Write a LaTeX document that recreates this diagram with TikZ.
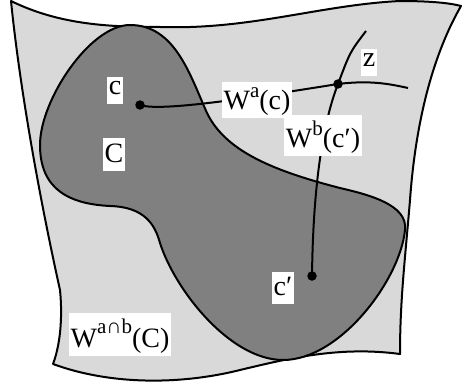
\documentclass[tikz,border=0pt]{standalone}
\usepackage{fontspec}
\setmainfont{Liberation Serif}
\newfontfamily\figfont{Liberation Serif}
\definecolor{sheetgray}{HTML}{D9D9D9}
\definecolor{blobgray}{HTML}{808080}
\newcommand{\SupT}[2][12pt]{\raisebox{#1}{\fontsize{21}{23}\selectfont #2}}
\begin{document}
\begin{tikzpicture}[x=1pt,y=-1pt,line width=2pt,
  lbl/.style={fill=white,inner xsep=1.5pt,inner ysep=5pt,text depth=4pt,anchor=base,
    font=\figfont\fontsize{28}{31}\selectfont},
  blackdot/.style={circle,fill=black,inner sep=0pt,minimum size=9.5pt}]
\useasboundingbox (0,0) rectangle (462,385);
% outer sheet
\filldraw[fill=sheetgray,line join=round] (11,1) .. controls (60,25) and (110,27) .. (160,27)
  .. controls (250,30) and (320,5) .. (400,1)
  .. controls (430,1) and (450,3) .. (461,6)
  .. controls (430,60) and (415,130) .. (410,200)
  .. controls (405,260) and (400,300) .. (400,354)
  .. controls (340,346) and (290,358) .. (240,370)
  .. controls (180,385) and (110,385) .. (53,364)
  .. controls (62,340) and (62,310) .. (60,290)
  .. controls (40,200) and (20,90) .. cycle;
% region C
\filldraw[fill=blobgray] (130,25) .. controls (90,25) and (40,100) .. (40,145)
  .. controls (40,190) and (70,204) .. (110,206)
  .. controls (145,207) and (155,225) .. (160,243)
  .. controls (175,290) and (230,360) .. (283,360)
  .. controls (340,360) and (400,280) .. (405,230)
  .. controls (408,205) and (370,195) .. (340,188)
  .. controls (270,170) and (225,150) .. (207,113)
  .. controls (190,75) and (175,25) .. cycle;
% points
\coordinate (cpt) at (140,105);
\coordinate (zpt) at (338,84);
\coordinate (cppt) at (312,276);
\coordinate (waend) at (408,88);
\coordinate (wbtop) at (366,31);
% curves
\draw (cpt) .. controls (160,112) and (250,98) .. (zpt) .. controls (370,80) and (390,84) .. (waend);
\draw (wbtop) .. controls (350,52) .. (zpt) .. controls (322,125) and (313,190) .. (cppt);
\node[blackdot] (cdot) at (cpt) {};
\node[blackdot] (zdot) at (zpt) {};
\node[blackdot] (cpdot) at (cppt) {};
% labels
\node[lbl] (lc) at (115,95) {c};
\node[lbl] (lC) at (114,162) {C};
\node[lbl] (lwa) at (257,109) {W\SupT{a}(c)};
\node[lbl] (lwb) at (323,147) {W\SupT{b}(c′)};
\node[lbl] (lz) at (369,67) {z};
\node[lbl] (lcp) at (283,295) {c′};
\node[lbl] (lwab) at (120,347) {W\SupT[14pt]{a∩b}(C)};
\end{tikzpicture}
\end{document}
